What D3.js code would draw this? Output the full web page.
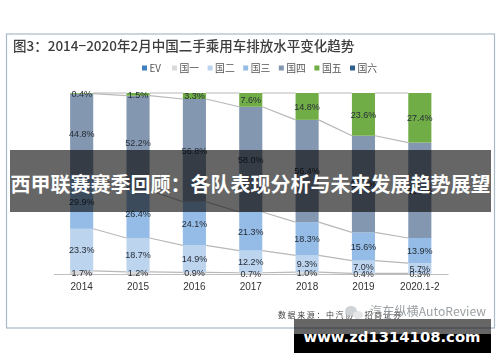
<!DOCTYPE html>
<html>
<head>
<meta charset="utf-8">
<script src="https://cdnjs.cloudflare.com/ajax/libs/d3/7.8.5/d3.min.js"></script>
<style>
  html, body { margin: 0; padding: 0; background: #fff; }
  svg { display: block; }
  text { font-family: "Liberation Sans", sans-serif; }
  .cjk { font-family: "Noto Sans CJK SC", sans-serif; }
</style>
</head>
<body>
<svg id="chart" width="500" height="362"></svg>
<script>
const years = ["2014", "2015", "2016", "2017", "2018", "2019", "2020.1-2"];
const seriesNames = ["EV", "国一", "国二", "国三", "国四", "国五", "国六"];
const seriesColors = ["#3f7fbf", "#d9d9d9", "#bcd4ee", "#94bce6", "#8497b0", "#70ad47", "#2f5f8f"];

const ev = [0, 0, 0, 0, 0, 0, 0];
const guo1 = [1.7, 1.2, 0.9, 0.7, 1.0, 0.4, 0.3];
const guo2 = [23.3, 18.7, 14.9, 12.2, 9.3, 7.0, 5.7];
const guo3 = [29.9, 26.4, 24.1, 21.3, 18.3, 15.6, 13.9];
const guo4 = [44.8, 52.2, 56.8, 58.0, 56.4, 53.4, 52.7];
const guo5 = [0.4, 1.5, 3.3, 7.6, 14.8, 23.6, 27.4];
const guo6 = [0, 0, 0, 0, 0, 0, 0];

const titleText = "图3：2014−2020年2月中国二手乘用车排放水平变化趋势";
const sourceText = "数据来源：中汽协、招商证券";
const wechatText = "汽车纵横AutoReview";
const bannerText = "西甲联赛赛季回顾：各队表现分析与未来发展趋势展望";
const siteText = "www.zd1314108.com";

const allValues = [ev, guo1, guo2, guo3, guo4, guo5, guo6];
const rows = years.map((y, i) => {
    let row = {year: y};
    seriesNames.forEach((s, j) => row[s] = allValues[j][i]);
    return row;
});

const svg = d3.select("#chart");

svg.append("defs").append("filter")
    .attr("id", "soft")
    .append("feGaussianBlur")
    .attr("stdDeviation", 0.45);

const chart = svg.append("g").attr("filter", "url(#soft)");

// outer frame of the figure
chart.append("rect")
    .attr("x", 6.5).attr("y", 34)
    .attr("width", 488).attr("height", 294)
    .attr("fill", "#fff")
    .attr("stroke", "#a9b9c9")
    .attr("stroke-width", 1.2);

chart.append("text")
    .attr("class", "cjk")
    .attr("x", 13).attr("y", 51)
    .attr("font-size", 13.5)
    .attr("font-weight", 500)
    .attr("fill", "#3c3c3c")
    .text(titleText);

const x = d3.scaleBand()
    .domain(years)
    .range([53.5, 448])
    .paddingInner(0.59)
    .paddingOuter(0.295);

const y = d3.scaleLinear()
    .domain([0, 1])
    .range([274, 93]);

const stacked = d3.stack()
    .keys(seriesNames)
    .offset(d3.stackOffsetExpand)(rows);

const color = d3.scaleOrdinal().domain(seriesNames).range(seriesColors);

// bars
chart.append("g")
    .selectAll("g")
    .data(stacked)
    .join("g")
    .attr("fill", d => color(d.key))
    .selectAll("rect")
    .data(d => d)
    .join("rect")
    .attr("x", d => x(d.data.year))
    .attr("y", d => y(d[1]))
    .attr("width", x.bandwidth())
    .attr("height", d => y(d[0]) - y(d[1]));

// series lines between the bars
const linked = stacked.filter(s => s.key !== "EV" && s.key !== "国六");
const pairs = [];
linked.forEach(s => {
    d3.pairs(s).forEach(p => pairs.push(p));
});
chart.append("g")
    .selectAll("line")
    .data(pairs)
    .join("line")
    .attr("x1", d => x(d[0].data.year) + x.bandwidth())
    .attr("x2", d => x(d[1].data.year))
    .attr("y1", d => y(d[0][1]))
    .attr("y2", d => y(d[1][1]))
    .attr("stroke", "#b8b8b8")
    .attr("stroke-width", 1.2);

// category axis
const axis = chart.append("g")
    .attr("transform", "translate(0,274)")
    .call(d3.axisBottom(x).tickSize(0).tickPadding(9));
axis.select(".domain").attr("stroke", "#bfbfbf").attr("stroke-width", 1.2);
axis.selectAll("text")
    .attr("font-size", 10)
    .attr("font-family", "Liberation Sans")
    .attr("fill", "#333");

// value labels
const labelData = [];
stacked.forEach(s => {
    s.forEach(d => {
        let v = d.data[s.key];
        if(v > 0){
            labelData.push({year: d.data.year, mid: (d[0] + d[1]) / 2, value: v});
        }
    });
});
chart.append("g")
    .selectAll("text")
    .data(labelData)
    .join("text")
    .attr("x", d => x(d.year) + x.bandwidth() / 2)
    .attr("y", d => y(d.mid))
    .attr("dy", "0.36em")
    .attr("text-anchor", "middle")
    .attr("font-size", 9)
    .attr("fill", "#262c36")
    .text(d => d.value.toFixed(1) + "%");

// legend
const legendX = d3.scaleLinear().domain([1, 6]).range([172, 350]);
const legend = chart.append("g")
    .selectAll("g")
    .data(seriesNames)
    .join("g")
    .attr("transform", (d, i) => `translate(${i === 0 ? 142 : legendX(i)},68)`);
legend.append("rect")
    .attr("y", -2.5)
    .attr("width", 5).attr("height", 5)
    .attr("fill", d => color(d));
legend.append("text")
    .attr("class", "cjk")
    .attr("x", 7.5)
    .attr("dy", "0.36em")
    .attr("font-size", 9.8)
    .attr("fill", "#555")
    .text(d => d);

// source line and the wechat mark printed over it
chart.append("text")
    .attr("class", "cjk")
    .attr("x", 278).attr("y", 318)
    .attr("font-size", 8)
    .attr("letter-spacing", 1.6)
    .attr("fill", "#444")
    .text(sourceText);

const mark = chart.append("g").attr("fill", "#cfd3d6");
mark.append("ellipse").attr("cx", 351).attr("cy", 311).attr("rx", 6).attr("ry", 5);
mark.append("ellipse").attr("cx", 358).attr("cy", 315).attr("rx", 5).attr("ry", 4).attr("fill", "#e4e6e8");

chart.append("text")
    .attr("class", "cjk")
    .attr("x", 486).attr("y", 316)
    .attr("text-anchor", "end")
    .attr("font-size", 12.2)
    .attr("fill", "#8a8f94")
    .attr("fill-opacity", 0.85)
    .text(wechatText);

// overlays on top of the picture
svg.append("rect")
    .attr("x", 10).attr("y", 150)
    .attr("width", 481).attr("height", 62)
    .attr("fill", "#000")
    .attr("fill-opacity", 0.6);

svg.append("text")
    .attr("class", "cjk")
    .attr("x", 250.5).attr("y", 192)
    .attr("text-anchor", "middle")
    .attr("font-size", 20)
    .attr("font-weight", 700)
    .attr("fill", "#fff")
    .text(bannerText);

svg.append("rect")
    .attr("x", 294).attr("y", 319)
    .attr("width", 197).attr("height", 15)
    .attr("fill", "#000")
    .attr("fill-opacity", 0.6);
svg.append("rect")
    .attr("x", 294).attr("y", 334)
    .attr("width", 197).attr("height", 19)
    .attr("fill", "#000");

svg.append("text")
    .attr("x", 392).attr("y", 342)
    .attr("text-anchor", "middle")
    .attr("font-size", 14.8)
    .attr("font-weight", 700)
    .attr("style", "font-family:'DejaVu Sans'")
    .attr("fill", "#fff")
    .text(siteText);
</script>
</body>
</html>
